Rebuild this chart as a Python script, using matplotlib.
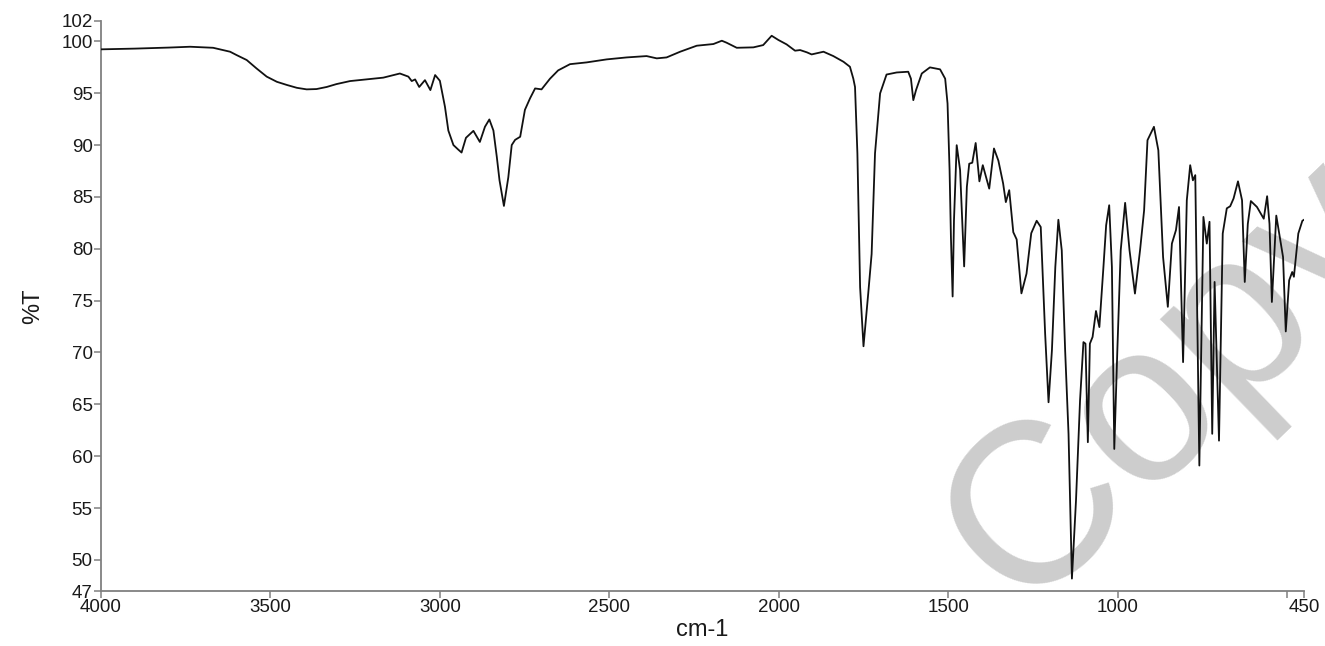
import matplotlib
matplotlib.use("Agg")
import matplotlib.pyplot as plt

plt.rcParams['font.family'] = ['Liberation Sans', 'DejaVu Sans']

# wavenumber (cm-1) and transmittance (%T)
wavenumber = [
    4000, 3900, 3800, 3737, 3669, 3619, 3600, 3570, 3541, 3511, 3481, 3452,
    3422, 3393, 3364, 3334, 3305, 3265, 3216, 3167, 3137, 3118, 3093, 3083,
    3073, 3061, 3044, 3028, 3014, 3000, 2985, 2975,
    2960, 2946, 2936, 2923, 2901, 2882, 2867, 2854, 2842, 2832, 2824, 2811,
    2798, 2788, 2778, 2763, 2749, 2734, 2719, 2700, 2675, 2651, 2616, 2567,
    2508, 2449, 2390, 2360, 2331, 2291, 2242, 2193, 2168, 2154, 2124, 2075,
    2046, 2021, 2001, 1977, 1952, 1937, 1917, 1903, 1868, 1839, 1809, 1790,
    1780, 1775, 1768, 1760, 1750, 1736, 1726, 1716, 1701, 1682, 1652, 1618,
    1610, 1603, 1595, 1578, 1554, 1524, 1509, 1502, 1496, 1492, 1487, 1483,
    1475, 1465, 1453, 1445, 1438, 1429, 1419, 1408, 1398, 1379, 1365, 1352,
    1338, 1330, 1320, 1308, 1298, 1284, 1269, 1255, 1239, 1227, 1214, 1204,
    1194, 1184, 1175, 1165, 1155, 1145, 1135, 1123, 1111, 1101, 1095, 1088,
    1082, 1074, 1064, 1054, 1042, 1034, 1025, 1017, 1010, 1001, 991, 978,
    965, 949, 934, 922, 912, 893, 880, 866, 852, 840, 828, 819,
    807, 796, 786, 778, 771, 759, 747, 737, 729, 721, 714, 701,
    690, 678, 668, 658, 645, 633, 625, 616, 607, 589, 569, 559,
    552, 545, 532, 520, 512, 504, 494, 485, 480, 467, 455, 450,
]
transmittance = [
    99.23, 99.3, 99.4, 99.48, 99.38, 99.0, 98.68, 98.2, 97.39, 96.6, 96.1, 95.8,
    95.52, 95.37, 95.4, 95.6, 95.88, 96.17, 96.33, 96.5, 96.75, 96.9, 96.6, 96.17,
    96.33, 95.6, 96.26, 95.3, 96.75, 96.2, 93.7, 91.4,
    90.0, 89.57, 89.28, 90.7, 91.37, 90.3, 91.76, 92.47, 91.4, 88.86, 86.6, 84.13,
    86.9, 90.0, 90.5, 90.8, 93.4, 94.5, 95.46, 95.37, 96.4, 97.2, 97.8, 97.97,
    98.26, 98.45, 98.58, 98.36, 98.45, 99.0, 99.58, 99.74, 100.06, 99.87, 99.38, 99.42,
    99.64, 100.54, 100.13, 99.71, 99.1, 99.16, 98.94, 98.74, 99.0, 98.58, 98.03, 97.55,
    96.4, 95.6, 89.2, 76.3, 70.6, 75.7, 79.5, 89.2, 94.98, 96.8, 97.0, 97.07,
    96.4, 94.33, 95.3, 96.9, 97.49, 97.3, 96.4, 94.0, 87.6, 81.1, 75.4, 82.75,
    89.99, 87.6, 78.3, 85.97, 88.2, 88.3, 90.2, 86.5, 88.06, 85.8, 89.67, 88.5,
    86.3, 84.5, 85.65, 81.6, 80.9, 75.7, 77.6, 81.5, 82.7, 82.1, 71.8, 65.2,
    70.2, 78.24, 82.8, 79.85, 70.2, 62.16, 48.2, 55.7, 65.4, 71.0, 70.85, 61.35,
    70.85, 71.5, 74.0, 72.45, 78.24, 82.27, 84.2, 78.24, 60.7, 70.2, 79.85, 84.43,
    79.85, 75.68, 79.85, 83.7, 90.47, 91.76, 89.5, 79.2, 74.4, 80.5, 81.8, 84.03,
    69.07, 84.68, 88.06, 86.6, 87.1, 59.1, 83.07, 80.5, 82.6, 62.16, 76.8, 61.5,
    81.47, 83.9, 84.1, 84.85, 86.5, 84.68, 76.8, 82.4, 84.6, 84.03, 82.9, 85.07,
    82.4, 74.87, 83.2, 80.8, 79.2, 72.03, 76.96, 77.76, 77.3, 81.47, 82.7, 82.8,
]

x_ticks = [4000, 3500, 3000, 2500, 2000, 1500, 1000, 500, 450]
x_tick_labels = ['4000', '3500', '3000', '2500', '2000', '1500', '1000', '', '450']
y_ticks = [47, 50, 55, 60, 65, 70, 75, 80, 85, 90, 95, 100, 102]

fig = plt.figure(figsize=(13.25, 6.46), dpi=100)
ax = fig.add_axes([0.0762, 0.0851, 0.908, 0.883])

ax.plot(wavenumber, transmittance, color='#111111', linewidth=1.3, zorder=3)

ax.set_xlim(4000, 450)
ax.set_ylim(47, 102)
ax.set_xticks(x_ticks)
ax.set_xticklabels(x_tick_labels)
ax.set_yticks(y_ticks)

for side in ['top', 'right']:
    ax.spines[side].set_visible(False)
for side in ['left', 'bottom']:
    ax.spines[side].set_color('#808080')
    ax.spines[side].set_linewidth(1.3)
ax.tick_params(colors='#808080', labelcolor='#1a1a1a', labelsize=13.5,
               length=5, width=1.1, pad=1)

ax.set_xlabel('cm-1', fontsize=17, color='#1a1a1a', labelpad=2)
ax.set_ylabel('%T', fontsize=17, color='#1a1a1a', labelpad=12)

# watermark, behind the spectrum line
ax.text(0.7705, 0.053, 'Copy', transform=fig.transFigure, fontsize=165,
        color='#cdcdcd', rotation=44, rotation_mode='anchor', ha='left',
        va='baseline', zorder=1, clip_on=False)

fig.savefig('out.png', dpi=100)
